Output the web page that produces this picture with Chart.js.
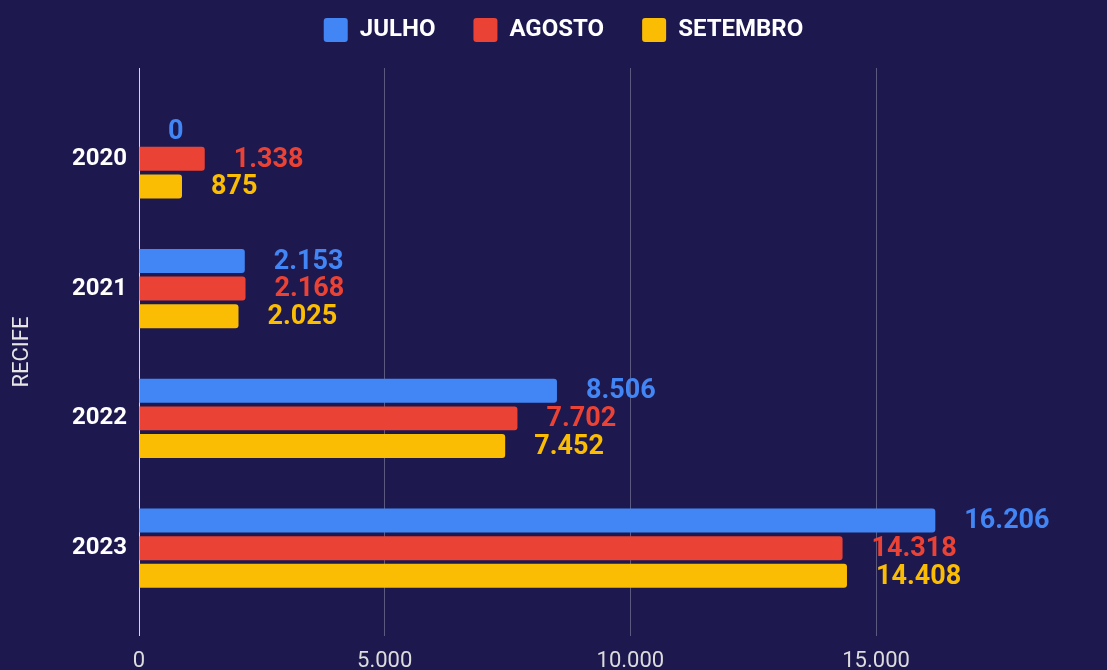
<!DOCTYPE html>
<html>
<head>
<meta charset="utf-8">
<script src="https://cdn.jsdelivr.net/npm/chart.js@4"></script>
<style>
  html, body { margin: 0; padding: 0; background: #1d194f; overflow: hidden; }
  #wrap { width: 1107px; height: 676px; }
</style>
</head>
<body>
<div id="wrap"><canvas id="recife"></canvas></div>
<script>
const years = ['2020', '2021', '2022', '2023'];
const julho = [0, 2153, 8506, 16206];
const agosto = [1338, 2168, 7702, 14318];
const setembro = [875, 2025, 7452, 14408];
const xTicks = [0, 5000, 10000, 15000];

const fmt = v => String(v).replace(/\B(?=(\d{3})+(?!\d))/g, '.');

// bar value labels, same colour as the bar
const valueLabels = {
    id: 'valueLabels',
    afterDatasetsDraw(chart) {
        const ctx = chart.ctx;
        ctx.save();
        ctx.font = 'bold 27px Roboto';
        ctx.textAlign = 'left';
        ctx.textBaseline = 'middle';
        chart.data.datasets.forEach((ds, i) => {
            chart.getDatasetMeta(i).data.forEach((bar, j) => {
                ctx.fillStyle = ds.backgroundColor;
                ctx.fillText(fmt(ds.data[j].x), bar.x + 29, bar.y + 1);
            });
        });
        ctx.restore();
    }
};

// extra room under the legend, and nudge it a bit right
const legendGap = {
    id: 'legendGap',
    beforeInit(chart) {
        const fit = chart.legend.fit;
        chart.legend.fit = function () {
            fit.call(this);
            this.height += 16;
        };
    },
    afterLayout(chart) {
        chart.legend.left += 10;
        chart.legend.right += 10;
    }
};

const toPoints = arr => arr.map((v, i) => ({ x: v, y: i }));

new Chart(document.getElementById('recife'), {
    type: 'bar',
    data: {
        datasets: [
            { label: 'JULHO', data: toPoints(julho), backgroundColor: '#4285f4' },
            { label: 'AGOSTO', data: toPoints(agosto), backgroundColor: '#ea4335' },
            { label: 'SETEMBRO', data: toPoints(setembro), backgroundColor: '#fbbc04' }
        ]
    },
    options: {
        indexAxis: 'y',
        responsive: true,
        maintainAspectRatio: false,
        animation: false,
        categoryPercentage: 0.64,
        barPercentage: 0.866,
        borderRadius: 3,
        layout: { padding: { top: -20, left: 0, right: 0, bottom: 0 } },
        plugins: {
            tooltip: { enabled: false },
            legend: {
                position: 'top',
                labels: {
                    color: '#ffffff',
                    font: { family: 'Roboto', size: 24, weight: 'bold' },
                    boxWidth: 24,
                    boxHeight: 24,
                    useBorderRadius: true,
                    borderRadius: 3,
                    padding: 38
                }
            }
        },
        scales: {
            x: {
                type: 'linear',
                min: 0,
                max: 19700,
                afterBuildTicks: s => { s.ticks = xTicks.map(v => ({ value: v })); },
                ticks: {
                    color: '#dcdcdc',
                    font: { family: 'Roboto', size: 22 },
                    padding: 12,
                    callback: v => fmt(v)
                },
                grid: {
                    drawTicks: false,
                    color: c => c.tick && c.tick.value === 0 ? '#d4d4e2' : 'rgba(255,255,255,0.28)'
                },
                border: { display: false },
                afterFit: s => { s.height = 40; }
            },
            y: {
                type: 'linear',
                offset: false,
                min: -0.7,
                max: 3.677,
                reverse: true,
                afterBuildTicks: s => { s.ticks = years.map((y, i) => ({ value: i })); },
                ticks: {
                    color: '#ffffff',
                    font: { family: 'Roboto', size: 24, weight: 'bold' },
                    padding: 12,
                    callback: v => years[v] ?? ''
                },
                grid: { display: false, drawTicks: false },
                border: { display: false },
                title: {
                    display: true,
                    text: 'RECIFE',
                    color: '#e6e6e6',
                    font: { family: 'Roboto', size: 22 },
                    padding: { top: 9, bottom: 4 }
                },
                afterFit: s => { s.width = 139; }
            }
        }
    },
    plugins: [valueLabels, legendGap]
});
</script>
</body>
</html>
